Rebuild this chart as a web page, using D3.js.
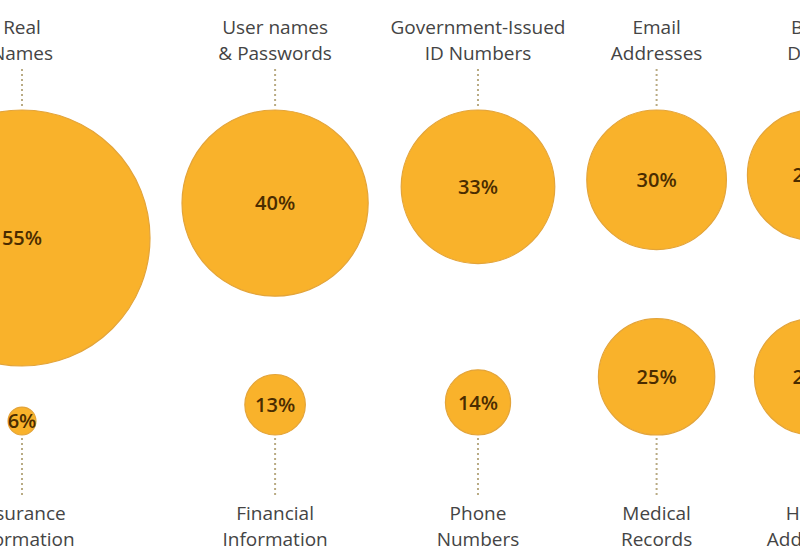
<!DOCTYPE html>
<html>
<head>
<meta charset="utf-8">
<script src="https://cdn.jsdelivr.net/npm/d3@7"></script>
<style>
  html, body { margin: 0; padding: 0; background: #ffffff; overflow: hidden; }
  svg { display: block; }
</style>
</head>
<body>
<svg id="chart" width="800" height="557"></svg>
<script>
// ---- data ----
const topCategories = ["Real\nNames", "User names\n& Passwords", "Government-Issued\nID Numbers", "Email\nAddresses", "Birth\nDates"];
const topValues = [55, 40, 33, 30, 28];
const bottomCategories = ["Insurance\nInformation", "Financial\nInformation", "Phone\nNumbers", "Medical\nRecords", "Home\nAddresses"];
const bottomValues = [6, 13, 14, 25, 25];

// ---- layout ----
const W = 800, H = 557;
const svg = d3.select("#chart");
const r = d3.scaleLinear().domain([0, 55]).range([0, 128]);
const gaps = [32, 33, 32, 21];
const firstX = 22;
const topEdge = 110, bottomEdge = 435;

// column centres from cumulative radii of the top row
const colX = [];
topValues.forEach((v, i) => {
  if (i === 0) colX.push(firstX);
  else colX.push(colX[i - 1] + r(topValues[i - 1]) + gaps[i - 1] + r(v));
});

const fill = "#F9B22B", stroke = "#E3A43A";
const labelColor = "#444444", valueColor = "#4a2c00";
const fontFamily = "'Open Sans', 'Noto Sans', sans-serif";

const topData = topCategories.map((c, i) => ({ label: c, value: topValues[i], x: colX[i] }));
const botData = bottomCategories.map((c, i) => ({ label: c, value: bottomValues[i], x: colX[i] }));

// dotted connectors
svg.append("g").selectAll("line").data(topData).join("line")
  .attr("x1", d => d.x).attr("x2", d => d.x)
  .attr("y1", 69).attr("y2", topEdge - 2)
  .attr("stroke", "#b9ab84").attr("stroke-width", 2)
  .attr("stroke-dasharray", "2,3");
svg.append("g").selectAll("line").data(botData).join("line")
  .attr("x1", d => d.x).attr("x2", d => d.x)
  .attr("y1", bottomEdge + 3).attr("y2", 497)
  .attr("stroke", "#b9ab84").attr("stroke-width", 2)
  .attr("stroke-dasharray", "2,3");

// bubbles
function bubbles(data, cyFn) {
  const g = svg.append("g").selectAll("g").data(data).join("g")
    .attr("transform", d => `translate(${d.x},${cyFn(d)})`);
  g.append("circle")
    .attr("r", d => r(d.value))
    .attr("fill", fill)
    .attr("stroke", stroke).attr("stroke-width", 1.2);
  g.append("text")
    .attr("text-anchor", "middle")
    .attr("dy", "0.36em")
    .attr("font-family", fontFamily)
    .attr("font-size", 20)
    .attr("font-weight", 600)
    .attr("fill", valueColor)
    .text(d => d.value + "%");
}
bubbles(topData, d => topEdge + r(d.value));
bubbles(botData, d => bottomEdge - r(d.value));

// labels
function labels(data, y0) {
  const t = svg.append("g").selectAll("text").data(data).join("text")
    .attr("text-anchor", "middle")
    .attr("font-family", fontFamily)
    .attr("font-size", 19)
    .attr("fill", labelColor)
    .attr("transform", d => `translate(${d.x},${y0})`);
  t.selectAll("tspan").data(d => d.label.split("\n")).join("tspan")
    .attr("x", 0)
    .attr("dy", (d, i) => i === 0 ? 0 : 26)
    .text(d => d);
}
labels(topData, 34);
labels(botData, 520);
</script>
</body>
</html>
